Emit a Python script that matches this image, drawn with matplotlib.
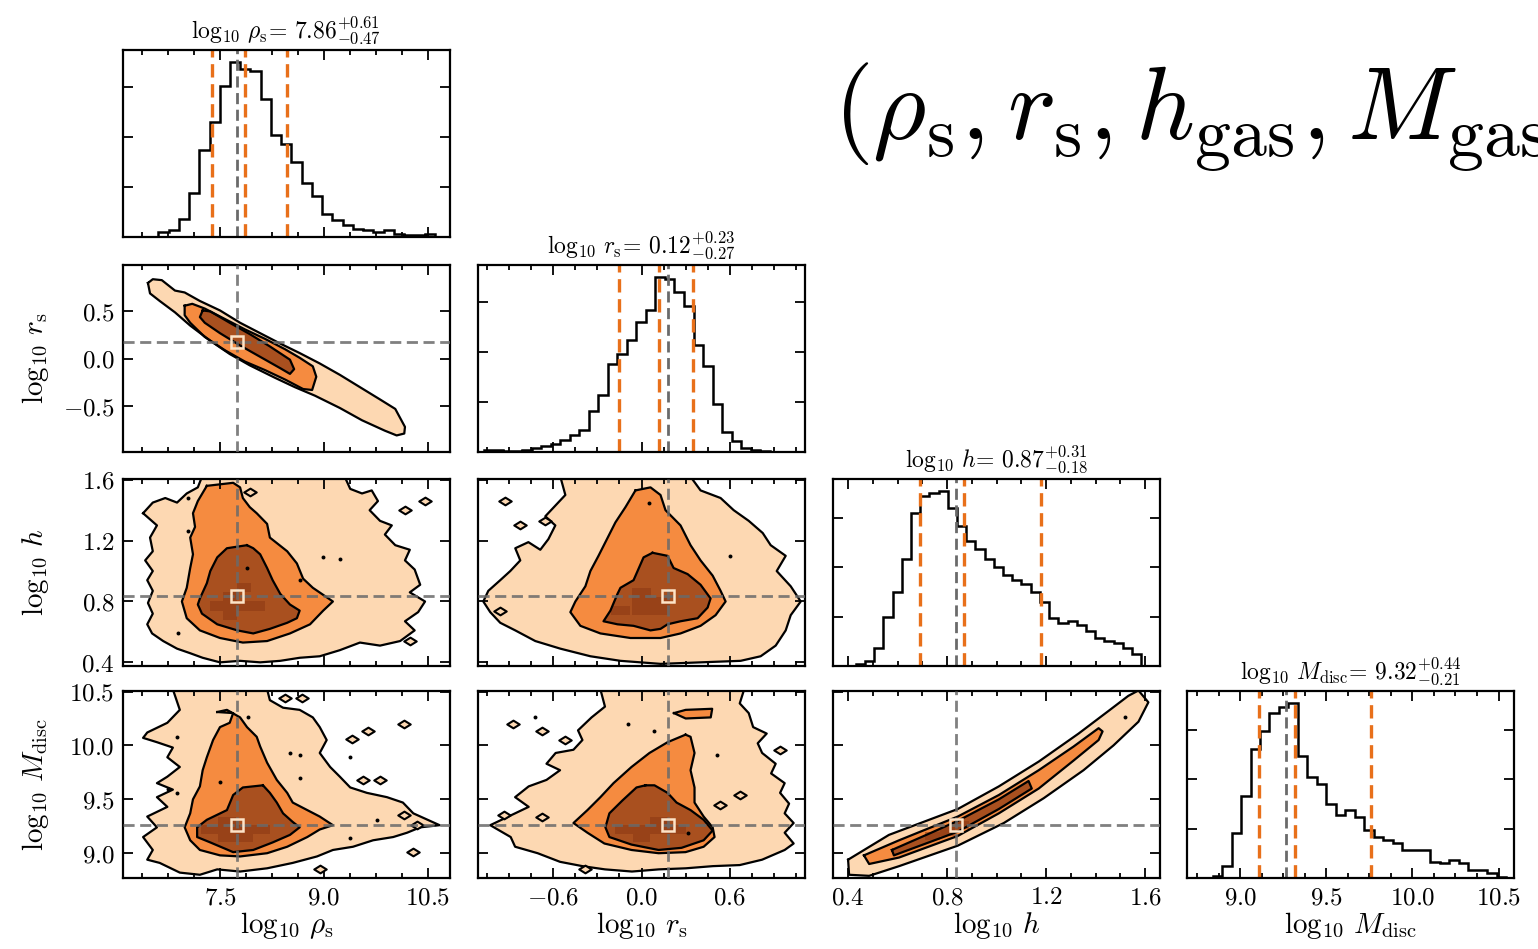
import numpy as np
import matplotlib
matplotlib.use("Agg")
import matplotlib.pyplot as plt
from matplotlib.path import Path
from matplotlib.patches import Rectangle
from matplotlib.ticker import MultipleLocator, MaxNLocator, FuncFormatter

plt.rcParams["mathtext.fontset"] = "cm"
plt.rcParams["font.family"] = "serif"
plt.rcParams["font.serif"] = ["DejaVu Serif"]
plt.rcParams["axes.linewidth"] = 1.6

# --- parameter summaries -------------------------------------------------
names = [r"$\log_{10}\,\rho_{\rm s}$", r"$\log_{10}\,r_{\rm s}$",
         r"$\log_{10}\,h$", r"$\log_{10}\,M_{\rm disc}$"]
medians = [7.86, 0.12, 0.87, 9.32]
err_up = [0.61, 0.23, 0.31, 0.44]
err_lo = [0.47, 0.27, 0.18, 0.21]
best_fit = [7.75, 0.18, 0.834, 9.266]

# --- 1D marginals (step histograms) --------------------------------------
rho_hist = [15, 20, 55, 132, 260, 345, 455, 525, 505, 498, 415, 305, 280, 225,
            162, 122, 70, 50, 35, 25, 20, 15, 20, 10, 5, 5, 10]
rho_bins = (6.61, 10.60)
rs_hist = [7, 7, 3, 2, 7, 12, 18, 25, 35, 50, 65, 122, 170, 265, 295, 335, 390,
           428, 525, 520, 480, 440, 320, 258, 145, 60, 32, 12, 7, 2]
rs_bins = (-1.068, 0.870)
h_hist = [5, 15, 55, 150, 225, 325, 465, 515, 525, 530, 480, 425, 380, 355, 325,
          300, 275, 260, 250, 225, 195, 145, 130, 135, 125, 105, 85, 75, 70, 55, 37]
h_bins = (0.431, 1.584)
mdisc_hist = [5, 35, 135, 250, 390, 445, 500, 520, 530, 370, 305, 285, 225, 190,
              205, 185, 145, 125, 115, 105, 85, 85, 85, 50, 45, 55, 47, 25, 25, 15, 3]
mdisc_bins = (8.839, 10.545)

# --- 2D credible regions (outer / middle / inner) ------------------------
rho_rs_outer = [(6.46, 0.80), (6.53, 0.84), (6.66, 0.83), (6.85, 0.72), (6.99, 0.70),
                (7.21, 0.61), (7.50, 0.51), (7.79, 0.38), (8.08, 0.27), (8.37, 0.16),
                (8.65, 0.06), (8.94, -0.05), (9.23, -0.17), (9.52, -0.30), (9.81, -0.43),
                (10.03, -0.53), (10.17, -0.72), (10.16, -0.79), (10.05, -0.81),
                (9.88, -0.76), (9.55, -0.65), (9.23, -0.52), (8.87, -0.39), (8.58, -0.30),
                (8.29, -0.20), (7.93, -0.07), (7.64, 0.05), (7.36, 0.19), (7.07, 0.35),
                (6.85, 0.49), (6.63, 0.61), (6.49, 0.69)]
rho_rs_mid = [(6.99, 0.56), (7.10, 0.58), (7.28, 0.53), (7.57, 0.42), (7.86, 0.31),
              (8.15, 0.21), (8.44, 0.10), (8.65, 0.01), (8.84, -0.08), (8.89, -0.19),
              (8.83, -0.33), (8.70, -0.32), (8.44, -0.22), (8.15, -0.12), (7.86, -0.03),
              (7.57, 0.09), (7.28, 0.23), (7.07, 0.38), (6.99, 0.46)]
rho_rs_inner = [(7.25, 0.51), (7.36, 0.50), (7.64, 0.38), (7.93, 0.26), (8.22, 0.13),
                (8.51, -0.01), (8.57, -0.11), (8.51, -0.16), (8.37, -0.10), (8.08, 0.02),
                (7.79, 0.14), (7.50, 0.27), (7.28, 0.38), (7.21, 0.44)]

rho_h_outer = [(6.39, 1.38), (6.53, 1.45), (6.71, 1.48), (6.88, 1.45), (7.02, 1.51),
               (7.18, 1.55), (7.24, 1.62), (9.30, 1.62), (9.38, 1.54), (9.55, 1.51),
               (9.69, 1.53), (9.78, 1.46), (9.66, 1.40), (9.81, 1.33), (9.98, 1.30),
               (9.88, 1.24), (10.03, 1.17), (10.24, 1.14), (10.17, 1.07), (10.31, 1.01),
               (10.39, 0.91), (10.24, 0.86), (10.46, 0.80), (10.36, 0.73), (10.17, 0.67),
               (10.31, 0.61), (10.10, 0.54), (9.81, 0.51), (9.52, 0.53), (9.23, 0.48),
               (8.94, 0.44), (8.65, 0.43), (8.37, 0.41), (8.08, 0.40), (7.79, 0.41),
               (7.50, 0.40), (7.25, 0.43), (7.07, 0.46), (6.88, 0.49), (6.68, 0.54),
               (6.52, 0.59), (6.45, 0.65), (6.53, 0.72), (6.46, 0.79), (6.53, 0.87),
               (6.45, 0.94), (6.53, 1.00), (6.42, 1.07), (6.53, 1.13), (6.49, 1.22),
               (6.59, 1.30)]
rho_h_mid = [(7.31, 1.56), (7.69, 1.58), (7.79, 1.55), (7.83, 1.48), (7.93, 1.42),
             (8.03, 1.38), (8.18, 1.31), (8.22, 1.22), (8.47, 1.13), (8.61, 1.05),
             (8.70, 0.95), (8.84, 0.89), (9.13, 0.80), (8.99, 0.74), (8.80, 0.65),
             (8.51, 0.59), (8.18, 0.54), (7.83, 0.53), (7.50, 0.56), (7.21, 0.61),
             (7.02, 0.69), (6.95, 0.80), (7.02, 0.89), (7.07, 1.02), (7.11, 1.11),
             (7.07, 1.22), (7.14, 1.29), (7.11, 1.38), (7.18, 1.46)]
rho_h_inner = [(7.89, 1.17), (7.60, 1.15), (7.46, 1.09), (7.36, 1.00), (7.31, 0.92),
               (7.21, 0.82), (7.18, 0.78), (7.24, 0.72), (7.46, 0.65), (7.75, 0.61),
               (7.98, 0.59), (8.22, 0.62), (8.47, 0.66), (8.61, 0.69), (8.65, 0.74),
               (8.51, 0.78), (8.37, 0.85), (8.26, 0.94), (8.18, 1.02), (8.08, 1.11),
               (7.98, 1.15)]

rs_h_outer = [(-0.551, 1.62), (0.333, 1.62), (0.401, 1.53), (0.537, 1.48), (0.626, 1.40),
              (0.728, 1.33), (0.823, 1.25), (0.877, 1.17), (0.979, 1.10), (0.918, 1.00),
              (1.013, 0.90), (1.081, 0.80), (1.013, 0.71), (0.979, 0.61), (0.911, 0.51),
              (0.809, 0.44), (0.673, 0.41), (0.401, 0.40), (0.129, 0.39), (-0.143, 0.41),
              (-0.347, 0.44), (-0.551, 0.49), (-0.721, 0.54), (-0.857, 0.61),
              (-0.959, 0.66), (-1.027, 0.73), (-1.074, 0.80), (-1.040, 0.87),
              (-0.959, 0.94), (-0.891, 1.00), (-0.823, 1.07), (-0.857, 1.15),
              (-0.768, 1.19), (-0.687, 1.14), (-0.632, 1.21), (-0.585, 1.30),
              (-0.653, 1.36), (-0.585, 1.43), (-0.517, 1.50)]
rs_h_mid = [(-0.041, 1.53), (0.061, 1.55), (0.129, 1.50), (0.163, 1.40), (0.265, 1.30),
            (0.333, 1.17), (0.401, 1.07), (0.483, 0.97), (0.537, 0.87), (0.571, 0.80),
            (0.503, 0.71), (0.401, 0.64), (0.265, 0.59), (0.129, 0.56), (-0.075, 0.56),
            (-0.279, 0.59), (-0.415, 0.64), (-0.483, 0.73), (-0.449, 0.80),
            (-0.381, 0.90), (-0.347, 1.00), (-0.292, 1.10), (-0.245, 1.19),
            (-0.177, 1.32), (-0.109, 1.42)]
rs_h_inner = [(0.075, 1.12), (0.014, 1.09), (-0.054, 0.94), (-0.143, 0.89), (-0.163, 0.85),
              (-0.211, 0.74), (-0.258, 0.67), (-0.163, 0.65), (-0.054, 0.64), (0.061, 0.61),
              (0.129, 0.62), (0.177, 0.65), (0.265, 0.67), (0.381, 0.69), (0.449, 0.76),
              (0.469, 0.82), (0.401, 0.91), (0.313, 0.98), (0.218, 1.02), (0.177, 1.10)]

rho_m_outer = [(6.82, 10.52), (6.92, 10.33), (6.74, 10.21), (6.45, 10.12), (6.39, 10.07),
               (6.59, 10.03), (6.82, 9.98), (6.74, 9.89), (6.92, 9.80), (6.74, 9.71),
               (6.59, 9.65), (6.82, 9.59), (6.59, 9.52), (6.74, 9.43), (6.45, 9.34),
               (6.59, 9.24), (6.39, 9.15), (6.53, 9.03), (6.45, 8.94), (6.63, 8.91),
               (6.92, 8.82), (7.21, 8.80), (7.46, 8.85), (7.79, 8.83), (8.18, 8.86),
               (8.55, 8.91), (8.90, 8.97), (9.13, 9.03), (9.42, 9.06), (9.71, 9.12),
               (10.00, 9.15), (10.20, 9.19), (10.39, 9.24), (10.67, 9.26), (10.29, 9.37),
               (10.14, 9.47), (9.91, 9.52), (9.62, 9.56), (9.38, 9.61), (9.23, 9.71),
               (9.09, 9.80), (8.94, 9.93), (9.04, 10.05), (8.94, 10.17), (8.84, 10.26),
               (8.65, 10.33), (8.41, 10.35), (8.22, 10.42), (8.18, 10.52)]
rho_m_mid = [(7.46, 10.31), (7.69, 10.30), (7.64, 10.21), (7.50, 10.17), (7.40, 10.05),
             (7.31, 9.89), (7.25, 9.77), (7.21, 9.62), (7.11, 9.50), (7.07, 9.37),
             (6.99, 9.24), (7.07, 9.12), (7.21, 9.03), (7.50, 8.98), (7.79, 8.97),
             (8.18, 9.00), (8.47, 9.06), (8.76, 9.15), (8.94, 9.22), (9.13, 9.26),
             (8.94, 9.34), (8.76, 9.40), (8.55, 9.47), (8.47, 9.56), (8.32, 9.68),
             (8.18, 9.84), (8.08, 9.99), (8.03, 10.08), (7.89, 10.17), (7.79, 10.26),
             (7.60, 10.33)]
rho_m_inner = [(8.12, 9.63), (7.83, 9.61), (7.69, 9.54), (7.60, 9.40), (7.31, 9.31),
               (7.17, 9.24), (7.17, 9.15), (7.36, 9.10), (7.69, 9.01), (7.98, 9.03),
               (8.26, 9.10), (8.51, 9.17), (8.65, 9.24), (8.55, 9.29), (8.41, 9.37),
               (8.32, 9.47), (8.22, 9.56)]

rs_m_outer = [(-0.279, 10.52), (-0.248, 10.36), (-0.339, 10.26), (-0.431, 10.14),
              (-0.401, 10.05), (-0.462, 9.96), (-0.583, 9.93), (-0.645, 9.83),
              (-0.553, 9.77), (-0.645, 9.68), (-0.766, 9.62), (-0.858, 9.52),
              (-0.766, 9.43), (-0.858, 9.37), (-1.027, 9.26), (-0.888, 9.15),
              (-0.858, 9.06), (-0.705, 9.00), (-0.553, 8.92), (-0.401, 8.88),
              (-0.248, 8.85), (-0.065, 8.83), (0.118, 8.85), (0.301, 8.86), (0.484, 8.88),
              (0.667, 8.89), (0.819, 8.94), (0.972, 9.03), (1.033, 9.09), (0.972, 9.19),
              (1.033, 9.28), (0.972, 9.37), (1.002, 9.46), (0.941, 9.56), (0.972, 9.65),
              (0.880, 9.74), (0.911, 9.83), (0.819, 9.93), (0.789, 10.02), (0.850, 10.11),
              (0.758, 10.17), (0.728, 10.30), (0.667, 10.39), (0.697, 10.52)]
rs_m_mid = [(0.299, 10.10), (0.177, 10.03), (0.054, 9.93), (-0.068, 9.80), (-0.190, 9.65),
            (-0.279, 9.52), (-0.367, 9.40), (-0.462, 9.28), (-0.367, 9.19), (-0.252, 9.09),
            (-0.068, 9.03), (0.116, 9.00), (0.299, 9.01), (0.422, 9.06), (0.496, 9.15),
            (0.483, 9.24), (0.422, 9.34), (0.360, 9.47), (0.360, 9.61), (0.333, 9.77),
            (0.360, 9.93), (0.333, 10.08)]
rs_m_blob = [(0.22, 10.30), (0.30, 10.33), (0.48, 10.34), (0.47, 10.26), (0.30, 10.25)]
rs_m_inner = [(0.027, 9.63), (-0.034, 9.61), (-0.129, 9.49), (-0.218, 9.37), (-0.245, 9.24),
              (-0.218, 9.15), (-0.068, 9.08), (0.116, 9.03), (0.272, 9.05), (0.422, 9.12),
              (0.483, 9.21), (0.422, 9.31), (0.333, 9.40), (0.238, 9.47), (0.177, 9.56),
              (0.088, 9.63)]

h_m_outer = [(0.400, 8.94), (0.565, 9.17), (0.843, 9.41), (1.009, 9.62), (1.170, 9.85),
             (1.331, 10.11), (1.452, 10.32), (1.532, 10.46), (1.573, 10.51), (1.613, 10.40),
             (1.573, 10.22), (1.472, 10.00), (1.351, 9.77), (1.190, 9.51), (1.029, 9.28),
             (0.843, 9.07), (0.606, 8.88), (0.485, 8.79), (0.404, 8.80)]
h_m_mid = [(0.464, 8.98), (0.606, 9.12), (0.843, 9.34), (1.009, 9.54), (1.170, 9.77),
           (1.311, 9.99), (1.412, 10.16), (1.428, 10.13), (1.412, 10.05), (1.311, 9.86),
           (1.170, 9.60), (1.009, 9.37), (0.843, 9.16), (0.606, 8.96), (0.485, 8.90)]
h_m_inner = [(0.577, 9.03), (0.726, 9.18), (0.843, 9.30), (1.009, 9.50), (1.129, 9.67),
             (1.142, 9.60), (1.009, 9.41), (0.843, 9.20), (0.726, 9.10), (0.585, 8.98)]

# densest 2D bins inside the inner region (centres)
rho_h_core = [(7.45, 0.77), (7.65, 0.77), (7.85, 0.77), (7.65, 0.83), (7.85, 0.89),
              (7.65, 0.71), (8.05, 0.77)]
rs_h_core = [(-0.14, 0.74), (0.0, 0.74), (0.13, 0.74), (0.0, 0.80), (0.13, 0.80), (0.0, 0.86)]
rho_m_core = [(7.35, 9.22), (7.60, 9.22), (7.85, 9.22), (7.60, 9.30), (7.85, 9.14),
              (8.10, 9.22), (7.60, 9.14)]
rs_m_core = [(-0.12, 9.22), (0.0, 9.22), (0.12, 9.22), (0.0, 9.14), (0.12, 9.30), (0.24, 9.22)]
h_m_core = [(0.74, 9.16), (0.80, 9.20), (0.86, 9.26)]

# small detached islands and specks of the outer contour
rho_h_islands = [(7.93, 1.52), (10.17, 1.40), (10.46, 1.46), (10.24, 0.54)]
rho_h_specks = [(7.04, 1.48), (7.04, 1.26), (8.99, 1.09), (9.23, 1.08), (8.65, 0.94),
                (6.89, 0.59), (7.89, 1.02)]
rs_h_islands = [(-0.925, 1.46), (-0.823, 1.30), (-0.653, 1.33), (-0.96, 0.74)]
rs_h_specks = [(0.05, 1.45), (0.60, 1.10)]
rho_m_islands = [(8.44, 10.44), (8.68, 10.44), (9.40, 10.06), (9.64, 10.13), (10.15, 10.20),
                 (9.57, 9.68), (9.81, 9.68), (10.15, 9.35), (10.34, 9.26), (10.29, 9.01),
                 (8.94, 8.85)]
rho_m_specks = [(7.90, 10.26), (6.88, 10.08), (8.51, 9.93), (8.65, 9.91), (8.65, 9.70),
                (6.75, 9.60), (6.88, 9.56), (7.50, 9.66), (9.38, 9.89), (9.76, 9.31),
                (9.38, 9.14)]
rs_m_islands = [(-0.873, 10.20), (-0.675, 10.13), (-0.522, 10.05), (-0.934, 9.35),
                (-0.675, 9.34), (0.941, 9.96), (0.530, 9.45), (0.666, 9.54), (-0.386, 8.85)]
rs_m_specks = [(-0.721, 10.26), (-0.095, 10.20), (0.088, 10.13), (0.514, 9.91), (0.316, 9.19)]
h_m_specks = [(1.52, 10.26)]

LIGHT = "#fdd8b2"
MID = "#f58b40"
DARK = "#a9501f"
CORE = "#8a3814"
ORANGE = "#e8701a"
GRAY = "#6a6a6a"

hists = [(rho_hist, rho_bins), (rs_hist, rs_bins), (h_hist, h_bins), (mdisc_hist, mdisc_bins)]
regions = {
    (1, 0): ([rho_rs_outer], [rho_rs_mid], [rho_rs_inner], [], [], [], None),
    (2, 0): ([rho_h_outer], [rho_h_mid], [rho_h_inner], rho_h_islands, rho_h_specks,
             rho_h_core, (0.2, 0.06)),
    (2, 1): ([rs_h_outer], [rs_h_mid], [rs_h_inner], rs_h_islands, rs_h_specks,
             rs_h_core, (0.13, 0.06)),
    (3, 0): ([rho_m_outer], [rho_m_mid], [rho_m_inner], rho_m_islands, rho_m_specks,
             rho_m_core, (0.25, 0.08)),
    (3, 1): ([rs_m_outer], [rs_m_mid, rs_m_blob], [rs_m_inner], rs_m_islands, rs_m_specks,
             rs_m_core, (0.12, 0.08)),
    (3, 2): ([h_m_outer], [h_m_mid], [h_m_inner], [], h_m_specks, h_m_core, (0.06, 0.08)),
}

xlims = [(6.10, 10.82), (-1.11, 1.11), (0.339, 1.66), (8.69, 10.59)]
ylims = {1: (-0.985, 0.99), 2: (0.376, 1.605), 3: (8.77, 10.505)}
xstep = [1.5, 0.6, 0.4, 0.5]
ystep = {1: 0.5, 2: 0.4, 3: 0.5}

diamond = Path([(-1, 0), (0, 0.62), (1, 0), (0, -0.62), (-1, 0)],
               [Path.MOVETO, Path.LINETO, Path.LINETO, Path.LINETO, Path.CLOSEPOLY])


def tex_fmt(v, pos):
    s = f"{v:.1f}"
    if s == "-0.0":
        s = "0.0"
    return f"${s}$"


fig = plt.figure(figsize=(15.38, 9.49), dpi=100)
W, H = 1538.0, 949.0
col_left = [123, 478, 833, 1187]
row_top = [50, 265, 479, 691]
pw, ph = 327, 187

for i in range(4):
    for j in range(i + 1):
        ax = fig.add_axes([col_left[j] / W, 1 - (row_top[i] + ph) / H, pw / W, ph / H])
        if i == j:
            counts, (lo, hi) = hists[i]
            edges = np.linspace(lo, hi, len(counts) + 1)
            ax.stairs(counts, edges, color="k", lw=1.8)
            for q in (medians[i] - err_lo[i], medians[i], medians[i] + err_up[i]):
                ax.axvline(q, color=ORANGE, ls=(0, (4, 2)), lw=2.4)
            ax.axvline(best_fit[i], color=GRAY, ls=(0, (4, 2)), lw=2.0)
            ax.set_ylim(0, max(counts) * 1.07)
            ax.yaxis.set_major_locator(MaxNLocator(4))
            ax.set_title(names[i][:-1] + r"\!=" +
                         f"\\,{medians[i]:.2f}^{{+{err_up[i]:.2f}}}_{{-{err_lo[i]:.2f}}}$",
                         fontsize=17, pad=9)
        else:
            outer, mid, inner, islands, specks, core, cell = regions[(i, j)]
            for polys, col in ((outer, LIGHT), (mid, MID), (inner, DARK)):
                for poly in polys:
                    p = np.array(poly + [poly[0]])
                    ax.fill(p[:, 0], p[:, 1], color=col, lw=0, zorder=1)
                    if col == DARK:
                        for cx, cy in core:
                            ax.add_patch(Rectangle((cx - cell[0] / 2, cy - cell[1] / 2),
                                                   cell[0], cell[1], color=CORE, lw=0,
                                                   alpha=0.55, zorder=1.5))
                    ax.plot(p[:, 0], p[:, 1], color="k", lw=1.6, zorder=2)
            if islands:
                isl = np.array(islands)
                ax.scatter(isl[:, 0], isl[:, 1], marker=diamond, s=80, facecolor=LIGHT,
                           edgecolor="k", lw=1.5, zorder=3)
            if specks:
                sp = np.array(specks)
                ax.scatter(sp[:, 0], sp[:, 1], s=8, color="k", lw=0, zorder=3)
            ax.axvline(best_fit[j], color=GRAY, ls=(0, (4, 2)), lw=2.0, alpha=0.85, zorder=4)
            ax.axhline(best_fit[i], color=GRAY, ls=(0, (4, 2)), lw=2.0, alpha=0.85, zorder=4)
            ax.plot(best_fit[j], best_fit[i], marker="s", ms=9, mfc="none", mec="#fde4c8",
                    mew=1.8, zorder=5)
            ax.set_ylim(*ylims[i])
            ax.yaxis.set_major_locator(MultipleLocator(ystep[i]))
            ax.yaxis.set_major_formatter(FuncFormatter(tex_fmt))
        ax.set_xlim(*xlims[j])
        ax.xaxis.set_major_locator(MultipleLocator(xstep[j]))
        ax.xaxis.set_minor_locator(MultipleLocator(xstep[j] / 4))
        ax.xaxis.set_major_formatter(FuncFormatter(tex_fmt))
        ax.tick_params(which="both", direction="in", top=True, right=True, width=1.3,
                       labelsize=18, pad=6)
        ax.tick_params(which="major", length=7)
        ax.tick_params(which="minor", length=3.5)
        ax.tick_params(labelbottom=(i == 3), labelleft=(j == 0 and i > 0))
        if i == 3:
            ax.set_xlabel(names[j], fontsize=21)
            ax.xaxis.set_label_coords(0.5, -0.17)
        if j == 0 and i > 0:
            ax.set_ylabel(names[i], fontsize=21)
            ax.yaxis.set_label_coords(-0.22, 0.5)

fig.text(833 / W, 1 - 140 / H, r"$(\rho_{\rm s}, r_{\rm s}, h_{\rm gas}, M_{\rm gas})$",
         fontsize=74, ha="left", va="baseline")

fig.savefig("out.png", dpi=100)
